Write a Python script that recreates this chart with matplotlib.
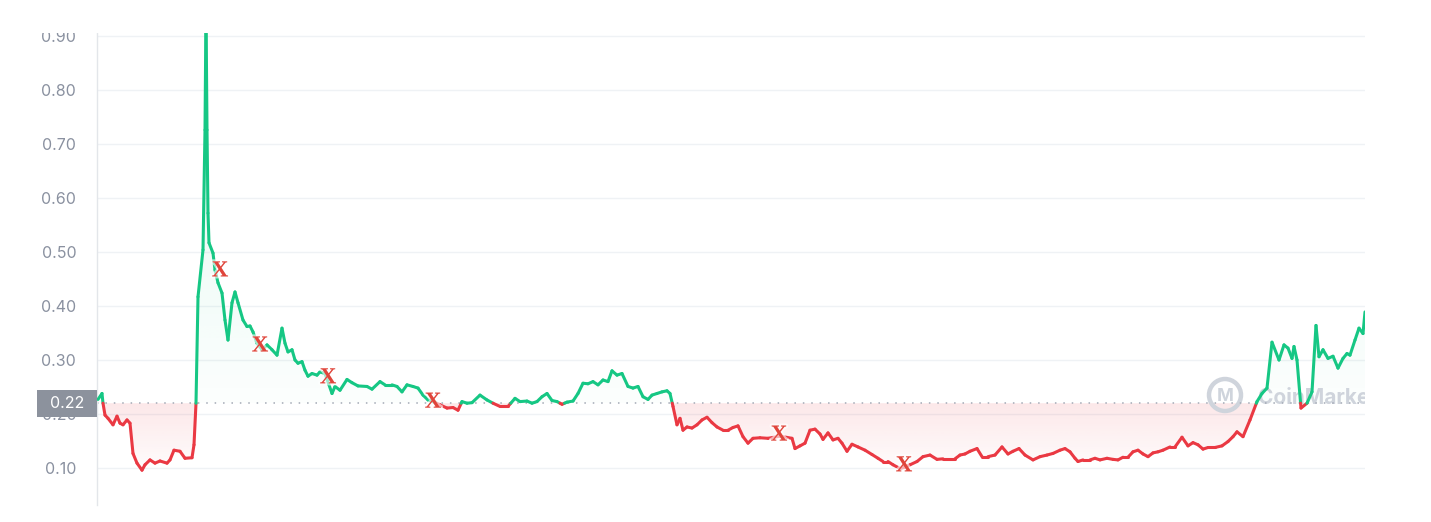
import numpy as np
import matplotlib
matplotlib.use("Agg")
import matplotlib.pyplot as plt
from matplotlib.collections import LineCollection
from matplotlib.path import Path
from matplotlib.patches import Rectangle, Circle
import matplotlib.transforms as mtransforms
import matplotlib.patheffects as pe

# ---------------- data ----------------
day = [0, 4, 5, 7, 10, 15, 19, 22, 25, 29, 32, 35, 39, 44, 47, 52, 57, 62, 69, 72,
       76, 82, 87, 94, 96, 98, 100, 105, 107, 108, 109, 110, 111, 115, 117, 120, 124,
       127, 130, 134, 137, 140, 145, 149, 152, 155, 159, 164, 169, 174, 179, 184, 187,
       190, 194, 197, 200, 204, 207, 210, 214, 219, 222, 227, 234, 237, 242, 249, 254,
       260, 269, 274, 282, 287, 294, 299, 304, 309, 315, 320, 325, 330, 335, 342, 349,
       355, 360, 364, 369, 374, 382, 389, 395, 402, 410, 417, 422, 429, 434, 439, 444,
       449, 454, 459, 464, 469, 475, 480, 485, 490, 495, 500, 505, 510, 514, 519, 524,
       530, 535, 540, 545, 550, 554, 559, 564, 569, 572, 575, 579, 582, 585, 589, 594,
       599, 604, 609, 614, 619, 625, 630, 635, 640, 645, 650, 655, 662, 670, 682, 694,
       697, 702, 707, 712, 717, 722, 725, 730, 735, 740, 744, 749, 754, 760, 767, 774,
       780, 785, 790, 795, 802, 806, 812, 819, 825, 832, 839, 845, 852, 857, 862, 867,
       872, 879, 884, 890, 897, 904, 910, 915, 921, 927, 935, 942, 949, 955, 962, 967,
       972, 977, 980, 985, 992, 997, 1002, 1009, 1015, 1020, 1025, 1030, 1035, 1040,
       1045, 1050, 1055, 1060, 1065, 1072, 1077, 1084, 1090, 1095, 1100, 1105, 1110,
       1117, 1124, 1130, 1135, 1139, 1145, 1152, 1159, 1164, 1169, 1174, 1181, 1186,
       1190, 1194, 1196, 1199, 1203, 1209, 1214, 1218, 1221, 1225, 1230, 1235, 1240,
       1245, 1249, 1252, 1257, 1261, 1265, 1267]

price = [0.227, 0.238, 0.220, 0.198, 0.192, 0.180, 0.196, 0.183, 0.180, 0.189, 0.183,
         0.127, 0.109, 0.096, 0.106, 0.115, 0.109, 0.113, 0.109, 0.115, 0.133, 0.131,
         0.118, 0.119, 0.143, 0.220, 0.417, 0.504, 0.726, 0.950, 0.726, 0.572, 0.517,
         0.498, 0.467, 0.443, 0.424, 0.374, 0.337, 0.406, 0.426, 0.406, 0.374, 0.362,
         0.363, 0.352, 0.331, 0.319, 0.328, 0.319, 0.309, 0.359, 0.331, 0.315, 0.319,
         0.300, 0.294, 0.297, 0.281, 0.270, 0.275, 0.272, 0.278, 0.275, 0.238, 0.251,
         0.244, 0.264, 0.258, 0.252, 0.251, 0.246, 0.260, 0.254, 0.254, 0.251, 0.241,
         0.254, 0.251, 0.248, 0.235, 0.226, 0.223, 0.217, 0.211, 0.212, 0.207, 0.223,
         0.220, 0.221, 0.235, 0.226, 0.220, 0.214, 0.214, 0.229, 0.223, 0.224, 0.220,
         0.223, 0.232, 0.238, 0.225, 0.223, 0.218, 0.222, 0.224, 0.238, 0.257, 0.256,
         0.260, 0.254, 0.263, 0.260, 0.280, 0.272, 0.275, 0.251, 0.248, 0.251, 0.232,
         0.227, 0.235, 0.238, 0.241, 0.243, 0.238, 0.214, 0.180, 0.192, 0.170, 0.176,
         0.174, 0.180, 0.189, 0.194, 0.184, 0.176, 0.170, 0.170, 0.175, 0.178, 0.158,
         0.146, 0.155, 0.156, 0.155, 0.159, 0.155, 0.136, 0.141, 0.146, 0.170, 0.172,
         0.163, 0.153, 0.165, 0.152, 0.155, 0.146, 0.131, 0.144, 0.139, 0.133, 0.125,
         0.118, 0.112, 0.112, 0.106, 0.099, 0.101, 0.106, 0.112, 0.121, 0.124, 0.116,
         0.117, 0.117, 0.117, 0.124, 0.126, 0.131, 0.136, 0.121, 0.121, 0.124, 0.139,
         0.126, 0.131, 0.136, 0.124, 0.115, 0.121, 0.124, 0.127, 0.133, 0.136, 0.130,
         0.118, 0.112, 0.115, 0.115, 0.118, 0.115, 0.118, 0.116, 0.115, 0.120, 0.120,
         0.130, 0.133, 0.126, 0.121, 0.128, 0.130, 0.133, 0.139, 0.139, 0.157, 0.141,
         0.147, 0.143, 0.135, 0.138, 0.138, 0.141, 0.149, 0.158, 0.167, 0.158, 0.189,
         0.223, 0.238, 0.248, 0.333, 0.300, 0.328, 0.322, 0.303, 0.325, 0.300, 0.211,
         0.220, 0.241, 0.364, 0.306, 0.319, 0.303, 0.307, 0.285, 0.303, 0.312, 0.309,
         0.337, 0.359, 0.349, 0.389]

baseline = 0.22
y_ticks = [0.10, 0.20, 0.30, 0.40, 0.50, 0.60, 0.70, 0.80, 0.90]
y_tick_labels = ["0.10", "0.20", "0.30", "0.40", "0.50", "0.60", "0.70", "0.80", "0.90"]

marker_day = [122, 162, 230, 335, 681, 806]
marker_price = [0.465, 0.326, 0.267, 0.222, 0.161, 0.104]

# ---------------- style ----------------
GREEN = "#16c784"
RED = "#ea3943"
GRID = "#eff2f5"
LABEL = "#8a91a0"

W, H = 1431, 522
fig = plt.figure(figsize=(W / 100, H / 100), dpi=100)
fig.patch.set_facecolor("white")

top_px = 32
y_lo, y_hi = 0.0315, (522 - top_px) / 540
left_px, right_px, bottom_px = 97, 1365, 17
ax_h_px = (y_hi - y_lo) * 540
ax = fig.add_axes([left_px / W, bottom_px / H, (right_px - left_px) / W, ax_h_px / H])
ax.set_xlim(-1, 1267)
ax.set_ylim(y_lo, y_hi)

# grid & spines
for s in ["top", "right", "bottom"]:
    ax.spines[s].set_visible(False)
ax.spines["left"].set_color("#e3e6ea")
ax.spines["left"].set_linewidth(1.0)
ax.set_xticks([])
ax.set_yticks(y_ticks)
ax.set_yticklabels(y_tick_labels, fontsize=11.5, color=LABEL, family=["Inter", "DejaVu Sans"])
ax.tick_params(axis="y", length=0, pad=15)
for yv in y_ticks:
    ax.axhline(yv, color=GRID, lw=1.0, zorder=0.5)

# densify at baseline crossings
xs, ys = [day[0]], [price[0]]
for i in range(1, len(day)):
    x0, y0, x1, y1 = day[i - 1], price[i - 1], day[i], price[i]
    if (y0 - baseline) * (y1 - baseline) < 0:
        xc = x0 + (baseline - y0) * (x1 - x0) / (y1 - y0)
        xs.append(xc)
        ys.append(baseline)
    xs.append(x1)
    ys.append(y1)
xs = np.array(xs)
ys = np.array(ys)

# gradient fills
def grad_fill(where, color, y0, y1, a0, a1, z):
    coll = ax.fill_between(xs, ys, baseline, where=where, interpolate=True,
                           facecolor="none", edgecolor="none")
    path = Path.make_compound_path(*coll.get_paths())
    rgb = matplotlib.colors.to_rgb(color)
    n = 256
    img = np.zeros((n, 2, 4))
    img[..., 0], img[..., 1], img[..., 2] = rgb
    a = np.linspace(a0, a1, n)
    img[..., 3] = a[:, None]
    im = ax.imshow(img, extent=[xs.min(), xs.max(), y0, y1], origin="lower",
                   aspect="auto", zorder=z, interpolation="bilinear")
    im.set_clip_path(path, transform=ax.transData)

grad_fill(ys >= baseline, GREEN, baseline, 0.95, 0.015, 0.14, 1)
grad_fill(ys <= baseline, RED, 0.09, baseline, 0.01, 0.12, 1)
ax.set_xlim(-1, 1267)
ax.set_ylim(y_lo, y_hi)

# watermark
WM = "#cfd4dc"
disp = ax.transData.transform((1225 - 98, (522 - 395) / 540))
ring = Circle(disp, radius=16, transform=None, fill=False, edgecolor=WM,
              linewidth=3.2, zorder=1.5)
ring.set_clip_on(False)
ax.add_artist(ring)
ax.text(1225 - 98, (522 - 396) / 540, "M", ha="center", va="center", fontsize=13,
        fontweight="bold", color=WM, family=["Inter", "DejaVu Sans"], zorder=1.5)
ax.text(1258 - 98, (522 - 404) / 540, "CoinMarketCap", ha="left", va="baseline",
        fontsize=15, fontweight="bold", color=WM, family=["Inter", "DejaVu Sans"],
        zorder=1.5, clip_on=True)

# baseline dotted
ax.axhline(baseline, color="#a3a9b5", lw=1.1, linestyle=(0, (1, 4.5)), zorder=2)

# colored price line
pts = np.column_stack([xs, ys])
segs = np.stack([pts[:-1], pts[1:]], axis=1)
mid = (ys[:-1] + ys[1:]) / 2
cols = [GREEN if m >= baseline else RED for m in mid]
lc = LineCollection(segs, colors=cols, linewidths=2.2, capstyle="round",
                    joinstyle="round", zorder=3)
ax.add_collection(lc)

# X markers
for mx, my in zip(marker_day, marker_price):
    ax.text(mx, my, "X", ha="center", va="center", fontsize=16.5, color="#e0453b",
            fontweight="bold", family=["Liberation Serif", "DejaVu Serif"], zorder=4,
            path_effects=[pe.withStroke(linewidth=3, foreground=(1, 1, 1, 0.6))])

# 0.22 badge
btr = mtransforms.blended_transform_factory(fig.transFigure, ax.transData)
bh = 26.7 / 540
badge = Rectangle((36.7 / W, baseline - bh / 2), 60 / W, bh, transform=btr,
                  facecolor="#8c929d", edgecolor="none", zorder=10)
fig.add_artist(badge)
fig.text(66.7 / W, baseline, "0.22", transform=btr, ha="center", va="center",
         fontsize=11.5, color="white", family=["Inter", "DejaVu Sans"], zorder=11)

# top crop (the screenshot is cut just above the 0.90 line)
crop_px = 33
fig.add_artist(Rectangle((0, (H - crop_px) / H), 1, crop_px / H, transform=fig.transFigure,
                         facecolor="white", edgecolor="none", zorder=20))

fig.savefig("out.png", dpi=100, facecolor="white")
